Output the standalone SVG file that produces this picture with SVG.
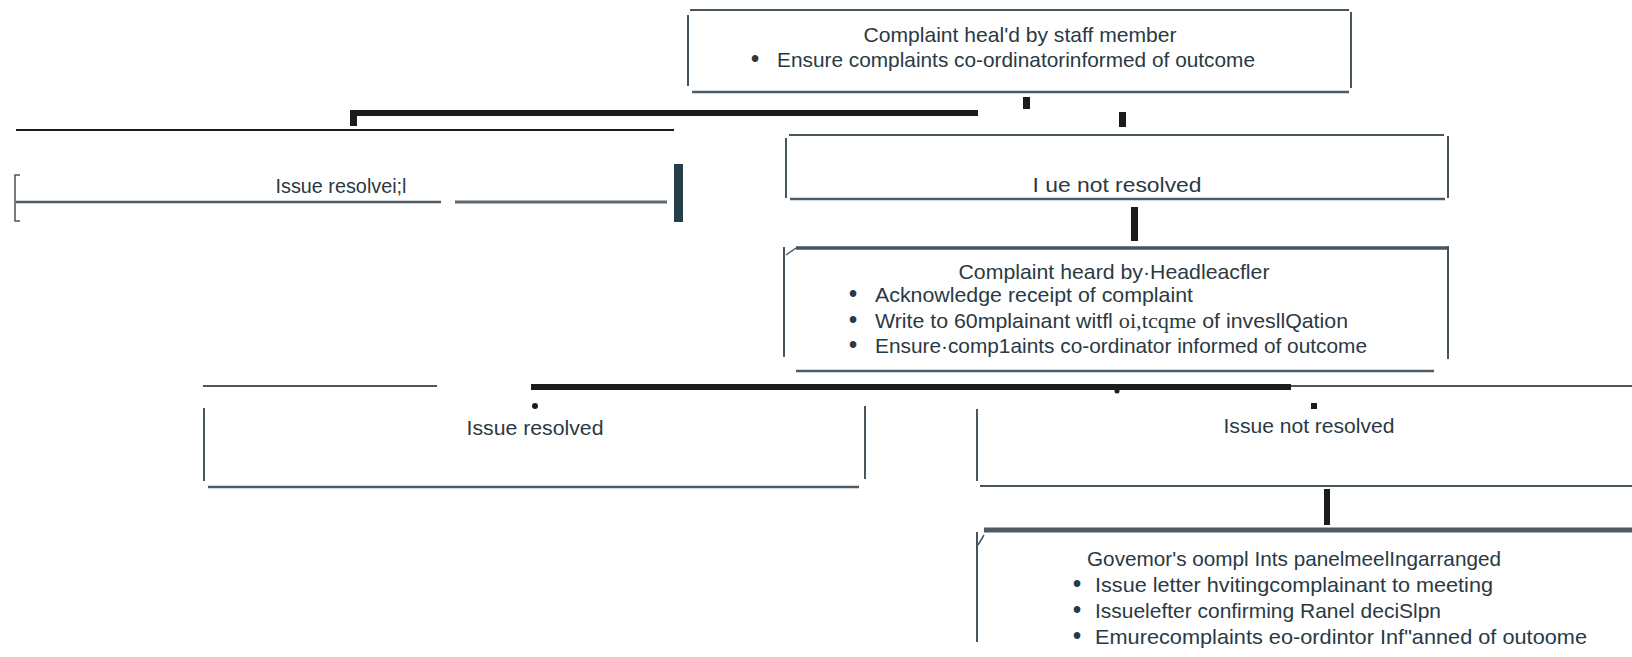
<svg xmlns="http://www.w3.org/2000/svg" width="1632" height="657" viewBox="0 0 1632 657">
<style>
.e{stroke:#46555e;stroke-width:2;fill:none}
.eb{stroke:#4d5c66;stroke-width:2.5;fill:none}
.t{font-family:"Liberation Sans",Arial,sans-serif;font-size:21px;fill:#2a3943}
.tc{text-anchor:middle}
.b{font-size:23px;font-weight:bold}
.s{font-family:"Liberation Serif","Times New Roman",serif;font-size:22px}
.k{fill:#1c1c1c}
.kl{stroke:#1c1c1c;stroke-width:1.5;fill:none}
</style>
<rect width="1632" height="657" fill="#ffffff"/>
<g id="connectors">
<rect class="k" x="1023" y="97" width="7" height="12"/>
<rect class="k" x="350" y="110" width="628" height="6"/>
<rect class="k" x="350" y="110" width="7" height="16"/>
<rect class="k" x="1119" y="112" width="7" height="15"/>
<rect class="k" x="1131" y="207" width="7" height="34"/>
<rect class="k" x="531" y="384" width="760" height="6"/>
<line class="kl" x1="1291" y1="386" x2="1632" y2="386"/>
<circle class="k" cx="535" cy="406" r="3"/>
<circle class="k" cx="1117" cy="391" r="2.5"/>
<rect class="k" x="1311" y="403" width="6" height="6"/>
<rect class="k" x="1324" y="489" width="6" height="36"/>
</g>
<g id="n-staff">
<line class="e" x1="690" y1="10" x2="1349" y2="10"/>
<line class="e" x1="688" y1="15" x2="688" y2="86"/>
<line class="e" x1="1351" y1="12" x2="1351" y2="88"/>
<line class="eb" x1="692" y1="92" x2="1349" y2="92"/>
<text class="t tc" x="1020" y="42" textLength="313" lengthAdjust="spacingAndGlyphs">Complaint heal'd by staff member</text>
<text class="t b" x="751" y="67">•</text>
<text class="t" x="777" y="67" textLength="478" lengthAdjust="spacingAndGlyphs">Ensure complaints co-ordinatorinformed of outcome</text>
</g>
<g id="n-resolved1">
<line class="kl" x1="16" y1="130" x2="674" y2="130" style="stroke-width:2"/>
<path class="e" d="M20 175 H15 V221 H20" style="stroke-width:1.5"/>
<line class="eb" x1="16" y1="202" x2="441" y2="202"/>
<line x1="455" y1="202" x2="667" y2="202" stroke="#5a6a74" stroke-width="3"/>
<rect x="674" y="164" width="9" height="58" fill="#263d4a"/>
<text class="t tc" x="341" y="193" textLength="131" lengthAdjust="spacingAndGlyphs">Issue resolvei;l</text>
</g>
<g id="n-notres1">
<line class="e" x1="789" y1="135" x2="1444" y2="135"/>
<line class="e" x1="786" y1="138" x2="786" y2="198"/>
<line class="e" x1="1448" y1="136" x2="1448" y2="198"/>
<line class="eb" x1="790" y1="199" x2="1445" y2="199"/>
<text class="t tc" x="1117" y="192" textLength="169" lengthAdjust="spacingAndGlyphs">I  ue not resolved</text>
</g>
<g id="n-head">
<line x1="796" y1="248" x2="1448" y2="248" stroke="#46555e" stroke-width="3.5"/>
<line class="e" x1="784" y1="247" x2="784" y2="357"/>
<line class="e" x1="786" y1="255" x2="796" y2="248" style="stroke-width:1.5"/>
<line class="e" x1="1448" y1="246" x2="1448" y2="359"/>
<line class="eb" x1="796" y1="371" x2="1434" y2="371"/>
<text class="t tc" x="1114" y="279" textLength="311" lengthAdjust="spacingAndGlyphs">Complaint  heard  by·Headleacfler</text>
<text class="t b" x="849" y="302">•</text>
<text class="t" x="875" y="302" textLength="318" lengthAdjust="spacingAndGlyphs">Acknowledge  receipt of complaint</text>
<text class="t b" x="849" y="328">•</text>
<text class="t" x="875" y="328" textLength="473" lengthAdjust="spacingAndGlyphs">Write to 60mplainant witfl <tspan class="s">oi,tcqme</tspan> of invesllQation</text>
<text class="t b" x="849" y="353">•</text>
<text class="t" x="875" y="353" textLength="492" lengthAdjust="spacingAndGlyphs">Ensure·comp1aints co-ordinator informed of outcome</text>
</g>
<g id="n-resolved2">
<line class="kl" x1="203" y1="386" x2="437" y2="386"/>
<line class="e" x1="204" y1="408" x2="204" y2="481"/>
<line class="e" x1="865" y1="406" x2="865" y2="479"/>
<line class="eb" x1="208" y1="487" x2="859" y2="487"/>
<text class="t tc" x="535" y="435" textLength="137" lengthAdjust="spacingAndGlyphs">Issue resolved</text>
</g>
<g id="n-notres2">
<line class="e" x1="977" y1="409" x2="977" y2="481"/>
<line class="e" x1="980" y1="486" x2="1632" y2="486"/>
<text class="t tc" x="1309" y="433" textLength="171" lengthAdjust="spacingAndGlyphs">Issue not resolved</text>
</g>
<g id="n-gov">
<line x1="984" y1="530" x2="1632" y2="530" stroke="#4f5b61" stroke-width="5"/>
<line class="e" x1="977" y1="532" x2="977" y2="642"/>
<line class="e" x1="978" y1="545" x2="984" y2="535" style="stroke-width:1.5"/>
<text class="t tc" x="1294" y="566" textLength="414" lengthAdjust="spacingAndGlyphs">Govemor's oompl Ints panelmeelIngarranged</text>
<text class="t b" x="1073" y="592">•</text>
<text class="t" x="1095" y="592" textLength="398" lengthAdjust="spacingAndGlyphs">Issue letter hvitingcomplainant to meeting</text>
<text class="t b" x="1073" y="618">•</text>
<text class="t" x="1095" y="618" textLength="346" lengthAdjust="spacingAndGlyphs">Issuelefter confirming Ranel deciSlpn</text>
<text class="t b" x="1073" y="644">•</text>
<text class="t" x="1095" y="644" textLength="492" lengthAdjust="spacingAndGlyphs">Emurecomplaints eo-ordintor Inf"anned of outoome</text>
</g>
</svg>
